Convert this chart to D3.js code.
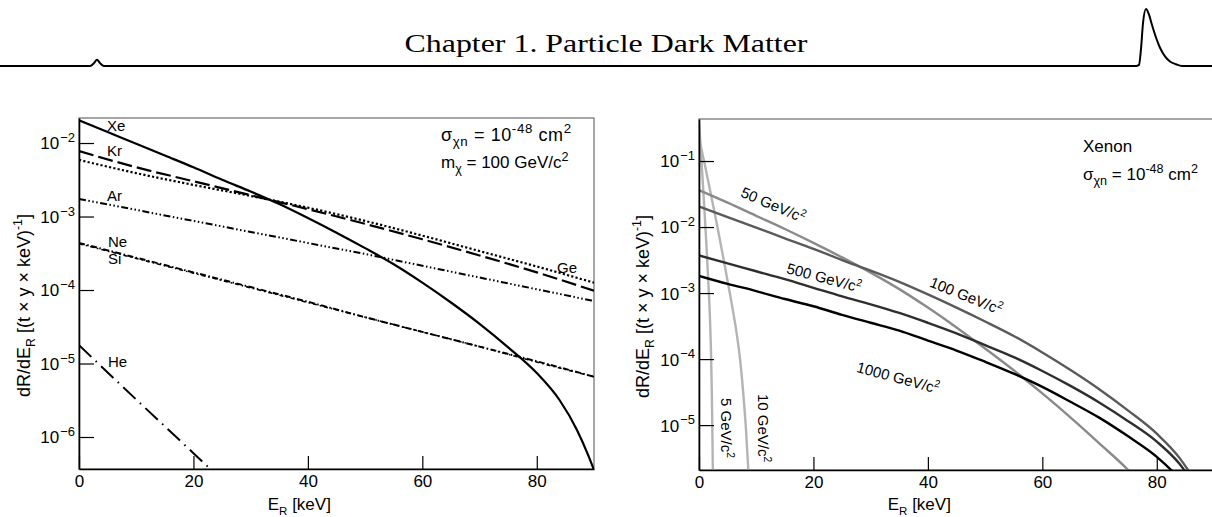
<!DOCTYPE html>
<html><head><meta charset="utf-8">
<script src="https://cdn.jsdelivr.net/npm/d3@7"></script>
<style>
html,body{margin:0;padding:0;background:#fff;}
svg{display:block;}
text{font-family:"Liberation Sans",Arial,Helvetica,sans-serif;fill:#000;}
</style></head><body>
<svg id="fig" width="1212" height="517"></svg>
<script>
// ---------------- data ----------------
// Rates are stored as log10 of dR/dE_R in (t x y x keV)^-1, energies in keV.

// Left panel: m_chi = 100 GeV/c^2, different targets
const energyXe = [0,5,10,15,20,25,30,35,40,45,50,55,60,65,70,75,80,84,87,89,90];
const rateXe   = [-1.69,-1.85,-2.01,-2.17,-2.33,-2.50,-2.66,-2.83,-3.02,-3.22,-3.43,-3.65,-3.90,-4.17,-4.46,-4.78,-5.13,-5.50,-5.90,-6.25,-6.45];
const energyGrid = [0,10,20,30,40,50,60,70,80,90];
const rateKr = [-2.11,-2.33,-2.52,-2.71,-2.90,-3.10,-3.31,-3.53,-3.76,-4.01];
const rateGe = [-2.23,-2.41,-2.57,-2.72,-2.88,-3.06,-3.26,-3.47,-3.68,-3.90];
const rateAr = [-2.76,-2.91,-3.06,-3.21,-3.36,-3.51,-3.67,-3.83,-3.99,-4.15];
const rateNe = [-3.36,-3.56,-3.76,-3.96,-4.16,-4.37,-4.57,-4.77,-4.97,-5.18];
const rateSi = [-3.37,-3.57,-3.77,-3.97,-4.17,-4.37,-4.57,-4.77,-4.98,-5.18];
const energyHe = [0,10,20,30];
const rateHe   = [-4.75,-5.49,-6.22,-6.96];

// Right panel: xenon target, different WIMP masses
const energyM5  = [0,0.4,0.8,1.2,1.6,1.9,2.1,2.25,2.35,2.45];
const rateM5    = [-0.40,-0.95,-1.52,-2.12,-2.78,-3.35,-3.90,-4.55,-5.20,-5.90];
const energyM10 = [0,1,2,3,4,5,6,6.6,7.2,7.7,8.2,8.7];
const rateM10   = [-0.65,-1.05,-1.47,-1.90,-2.35,-2.82,-3.30,-3.62,-4.02,-4.48,-5.05,-5.80];
const energyM50 = [0,5,10,15,20,25,30,35,40,45,50,55,60,65,70,75,76];
const rateM50   = [-1.44,-1.63,-1.83,-2.03,-2.24,-2.46,-2.69,-2.94,-3.22,-3.52,-3.84,-4.17,-4.52,-4.89,-5.28,-5.68,-5.77];
const energyHeavy = [0,5,10,15,20,25,30,35,40,45,50,55,60,65,70,75,80,84,87];
const rateM500  = [-2.43,-2.55,-2.67,-2.79,-2.92,-3.05,-3.17,-3.30,-3.45,-3.61,-3.79,-3.97,-4.18,-4.41,-4.66,-4.94,-5.25,-5.59,-5.97];
const rateM1000 = [-2.74,-2.86,-2.97,-3.09,-3.20,-3.33,-3.45,-3.57,-3.72,-3.87,-4.04,-4.22,-4.42,-4.65,-4.89,-5.17,-5.48,-5.81,-6.10];

// Axis ranges and ticks
const energyRange = [0, 90];
const energyMajorTicks = [0,20,40,60,80];
const energyMinorTicks = d3.range(0, 91, 5);
const leftRateRange  = [3.67e-7, 0.0219];
const rightRateRange = [2.09e-6, 0.433];

// Header trace (arbitrary units)
const traceX = [0,90,94,97,100,104,1136,1139,1141,1143,1146,1149,1152,1156,1160,1165,1170,1176,1182,1212];
const traceA = [0,0,0.05,0.11,0.05,0,0,0.02,0.3,0.75,1.0,0.9,0.72,0.5,0.32,0.17,0.08,0.03,0,0];

// ---------------- drawing ----------------
const svg = d3.select("#fig");

// header
const hx = d3.scaleLinear().domain([0,1212]).range([0,1212]);
const hy = d3.scaleLinear().domain([0,1]).range([66,9]);
svg.append("path")
  .datum(d3.zip(traceX, traceA))
  .attr("fill","none").attr("stroke","#000").attr("stroke-width",2)
  .attr("d", d3.line().x(d=>hx(d[0])).y(d=>hy(d[1])).curve(d3.curveMonotoneX));
svg.append("text")
  .attr("x",606).attr("y",52).attr("text-anchor","middle")
  .attr("textLength",403).attr("lengthAdjust","spacingAndGlyphs")
  .style("font-family","'Liberation Serif','DejaVu Serif',serif").style("font-size","26px")
  .text("Chapter 1.  Particle Dark Matter");

// rich text helper: parts [{t, s:'sub'|'sup'}]
function rich(g, parts, size, ratio){
  ratio = ratio || 0.68;
  const t = g.append("text").style("font-size", size+"px");
  let shift = 0;
  parts.forEach(p=>{
    const ts = t.append("tspan").text(p.t);
    let target = 0;
    if(p.s==="sup"){ target = -0.42*size; ts.style("font-size",(size*ratio)+"px"); }
    else if(p.s==="sub"){ target = 0.28*size; ts.style("font-size",(size*ratio)+"px"); }
    ts.attr("dy", target - shift);
    shift = target;
  });
  return t;
}

function panel(box, yRange, ylabelX){
  const x = d3.scaleLinear().domain(energyRange).range([box.x0, box.x1]);
  const y = d3.scaleLog().domain(yRange).range([box.y1, box.y0]);
  const id = "clip" + box.x0;
  svg.append("clipPath").attr("id", id).append("rect")
    .attr("x",box.x0).attr("y",box.y0).attr("width",box.x1-box.x0).attr("height",box.y1-box.y0);
  // frame
  svg.append("rect").attr("x",box.x0).attr("y",box.y0)
    .attr("width",box.x1-box.x0).attr("height",box.y1-box.y0)
    .attr("fill","none").attr("stroke","#777").attr("stroke-width",1.3);

  const plot = svg.append("g").attr("clip-path", `url(#${id})`);

  // x axis
  const gx = svg.append("g").attr("transform",`translate(0,${box.y1})`);
  gx.call(d3.axisBottom(x).tickValues(energyMinorTicks).tickSize(-6).tickSizeOuter(0).tickFormat(""));
  gx.call(d3.axisBottom(x).tickValues(energyMajorTicks).tickSize(-13).tickSizeOuter(0).tickPadding(6).tickFormat(d3.format("d")));
  gx.selectAll("text").style("font-size","17px").style("font-family","'Liberation Sans',Arial,sans-serif");

  // y axis
  const lo = Math.floor(Math.log10(yRange[0])), hi = Math.ceil(Math.log10(yRange[1]));
  const majors = [], minors = [];
  for(let e=lo; e<=hi; e++){
    for(let k=1;k<10;k++){
      const v = k*Math.pow(10,e);
      if(v<yRange[0]||v>yRange[1]) continue;
      (k===1?majors:minors).push(v);
    }
  }
  const gy = svg.append("g").attr("transform",`translate(${box.x0},0)`);
  gy.call(d3.axisLeft(y).tickValues(minors).tickSize(-8).tickSizeOuter(0).tickFormat(""));
  gy.call(d3.axisLeft(y).tickValues(majors).tickSize(-15).tickSizeOuter(0).tickPadding(4).tickFormat(""));
  gy.selectAll(".tick").each(function(d){
    const k = Math.round(Math.log10(d));
    if(Math.abs(Math.log10(d)-k)>1e-6) return;
    const t = d3.select(this).select("text");
    t.style("font-size","17px").attr("dy","0.35em");
    t.append("tspan").text("10");
    t.append("tspan").text("\u2212"+(-k)).style("font-size","13px").attr("dy","-0.55em").attr("dx","1");
  });
  svg.selectAll(".domain").attr("stroke","#000").attr("stroke-width",1.6);
  svg.selectAll(".tick line").attr("stroke","#000").attr("stroke-width",1.2);

  // axis titles
  const xt = rich(svg.append("g").attr("transform",`translate(${x(38.5)},510)`),
    [{t:"E"},{t:"R",s:"sub"},{t:" [keV]"}], 17);
  xt.attr("text-anchor","middle");
  const yt = rich(svg.append("g").attr("transform",`translate(${ylabelX},${(box.y0+box.y1)/2+12}) rotate(-90)`),
    [{t:"dR/dE"},{t:"R",s:"sub"},{t:" [(t \u00d7 y \u00d7 keV)"},{t:"-1",s:"sup"},{t:"]"}], 18);
  yt.attr("text-anchor","middle");

  return {x, y, plot};
}

function curve(p, xs, ys, style){
  p.plot.append("path")
    .datum(d3.zip(xs, ys))
    .attr("fill","none")
    .attr("stroke", style.color || "#000")
    .attr("stroke-width", style.width || 2)
    .attr("stroke-dasharray", style.dash || null)
    .attr("d", d3.line().x(d=>p.x(d[0])).y(d=>p.y(Math.pow(10,d[1]))).curve(d3.curveMonotoneX));
}

// ---- left panel: targets ----
const L = panel({x0:79,x1:594,y0:118,y1:469}, leftRateRange, 30);
curve(L, energyHe, rateHe, {dash:"17,6,1.5,6", width:2});
curve(L, energyGrid, rateNe, {dash:"6,2.5,1.5,2.5", width:2});
curve(L, energyGrid, rateSi, {dash:"4,3,1.5,3", width:1.6});
curve(L, energyGrid, rateAr, {dash:"7,2.5,1.5,2.5,1.5,2.5,1.5,2.5", width:2});
curve(L, energyGrid, rateGe, {dash:"2.2,2.2", width:2.2});
curve(L, energyGrid, rateKr, {dash:"15,5", width:2.2});
curve(L, energyXe, rateXe, {width:2.2});

const leftLabels = [["Xe",107,131],["Kr",107,156],["Ar",107,201],["Ne",108,247],["Si",108,264],["He",108,367],["Ge",557,273]];
leftLabels.forEach(([t,x,y])=>svg.append("text").attr("x",x).attr("y",y).style("font-size","15px").text(t));

rich(svg.append("g").attr("transform","translate(441,141)"),
  [{t:"\u03c3"},{t:"\u03c7n",s:"sub"},{t:" = 10"},{t:"-48",s:"sup"},{t:" cm"},{t:"2",s:"sup"}], 18, 0.74)
  .style("letter-spacing","0.6px");
rich(svg.append("g").attr("transform","translate(441,168)"),
  [{t:"m"},{t:"\u03c7",s:"sub"},{t:"  = 100 GeV/c"},{t:"2",s:"sup"}], 17, 0.74);

// ---- right panel: xenon, WIMP masses ----
const R = panel({x0:699,x1:1214,y0:119,y1:470}, rightRateRange, 649);
curve(R, energyM5, rateM5, {color:"#b4b4b4", width:2.4});
curve(R, energyM10, rateM10, {color:"#b4b4b4", width:2.4});
curve(R, energyM50, rateM50, {color:"#8a8a8a", width:2.4});
curve(R, energyXe, rateXe, {color:"#5a5a5a", width:2.4});
curve(R, energyHeavy, rateM500, {color:"#2e2e2e", width:2.4});
curve(R, energyHeavy, rateM1000, {color:"#000", width:2.4});

const massLabels = [["50",773,205,23],["100",966,296,22],["500",824,278,15],["1000",898,378,15],["5",726,428,90],["10",763,428,90]];
massLabels.forEach(([m,cx,cy,a])=>{
  const t = rich(svg.append("g").attr("transform",`translate(${cx},${cy}) rotate(${a})`),
    [{t:m+" GeV/c"},{t:"2",s:"sup"}], 15);
  t.attr("text-anchor","middle").attr("y",5);
});

rich(svg.append("g").attr("transform","translate(1083,152)"), [{t:"Xenon"}], 17);
rich(svg.append("g").attr("transform","translate(1083,180)"),
  [{t:"\u03c3"},{t:"\u03c7n",s:"sub"},{t:" = 10"},{t:"-48",s:"sup"},{t:" cm"},{t:"2",s:"sup"}], 17, 0.74);
</script>
</body></html>
